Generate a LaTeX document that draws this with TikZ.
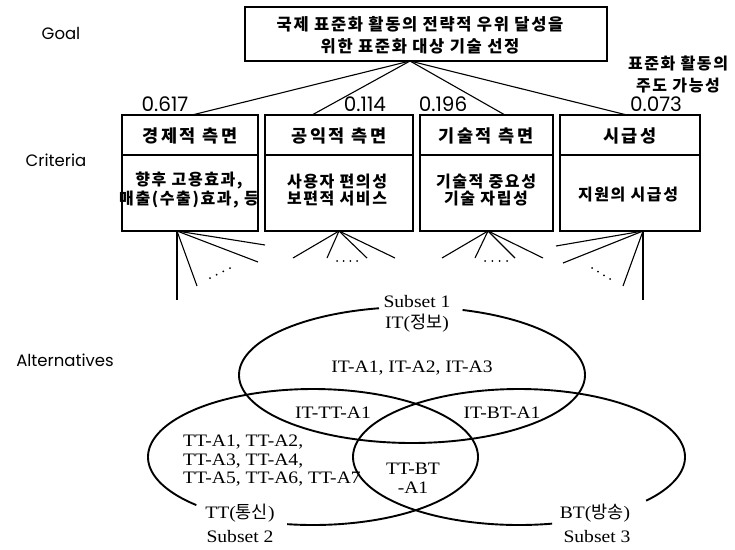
\documentclass[tikz,border=0pt]{standalone}
\usepackage{fontspec}
\setmainfont{Liberation Serif}
\newfontfamily\krb[LetterSpace=10]{Noto Sans CJK KR}
\newfontfamily\krh[LetterSpace=16]{Noto Sans CJK KR}
\newfontfamily\krv{Noto Sans CJK KR}
\newfontfamily\vennf[FakeStretch=1.12]{Liberation Serif}
\newfontfamily\labf{Poppins}
\begin{document}
\begin{tikzpicture}[x=1pt,y=-1pt,
  box/.style={draw,line width=1.4pt,outer sep=0pt,inner sep=0pt,anchor=north west},
  conn/.style={line width=1.1pt},
  vline/.style={line width=1.9pt},
  goaltext/.style={align=center,font=\krb\bfseries\fontsize{16.5}{22}\selectfont},
  hdr/.style={font=\krh\bfseries\fontsize{17.5}{20}\selectfont},
  bodytext/.style={align=center,font=\krb\bfseries\fontsize{16}{17}\selectfont},
  note/.style={align=center,font=\krb\bfseries\fontsize{16}{22}\selectfont},
  lvl/.style={font=\labf\fontsize{16.5}{20}\selectfont},
  wt/.style={font=\labf\fontsize{20}{22}\selectfont},
  vtext/.style={font=\vennf\fontsize{17.5}{19}\selectfont,align=center},
  vtextl/.style={font=\vennf\fontsize{17.5}{18.5}\selectfont,align=left},
  dotm/.style={fill=black}
]
\useasboundingbox (0,0) rectangle (735,549);

% level labels
\node[lvl] (lgoal) at (61,33) {Goal};
\node[lvl] (lcrit) at (56,160) {Criteria};
\node[lvl] (lalt) at (65,360) {Alternatives};

% goal box
\node[box,minimum width=362pt,minimum height=54pt] (goal) at (245,7) {};
\node[goaltext] (goaltxt) at (420,35) {국제 표준화 활동의 전략적 우위 달성을\\위한 표준화 대상 기술 선정};
\coordinate (hub) at (410,61);

% criteria boxes
\node[box,minimum width=136pt,minimum height=116pt] (c1) at (122,115) {};
\node[box,minimum width=148pt,minimum height=116pt] (c2) at (265,115) {};
\node[box,minimum width=133pt,minimum height=116pt] (c3) at (420,115) {};
\node[box,minimum width=140pt,minimum height=116pt] (c4) at (560,115) {};
\foreach \c in {c1,c2,c3,c4}{
  \draw[line width=1.4pt] (\c.west |- 0,155) -- (\c.east |- 0,155);
}
\node[hdr] (h1) at (190,135.5) {경제적 측면};
\node[hdr] (h2) at (339,135.5) {공익적 측면};
\node[hdr] (h3) at (486,135.5) {기술적 측면};
\node[hdr] (h4) at (630,135.5) {시급성};

\node[bodytext] (b1) at (189,190) {향후 고용효과,\\매출(수출)효과, 등};
\node[bodytext] (b2) at (337,190) {사용자 편의성\\보편적 서비스};
\node[bodytext] (b3) at (486,190) {기술적 중요성\\기술 자립성};
\node[bodytext] (b4) at (628,195) {지원의 시급성};

% weights
\node[wt] (w1) at (165,104) {0.617};
\node[wt] (w2) at (365,104) {0.114};
\node[wt] (w3) at (443,104) {0.196};
\node[wt] (w4) at (656,104) {0.073};
\node[note] (n4) at (678,74) {표준화 활동의\\주도 가능성};

% goal -> criteria
\coordinate (t1) at (192,115);
\coordinate (t2) at (312,115);
\coordinate (t3) at (505,115);
\coordinate (t4) at (627,115);
\foreach \t in {t1,t2,t3,t4}{ \draw[conn] (hub) -- (\t); }

% fans below criteria
\coordinate (a1) at (177,231);
\coordinate (a2) at (339,231);
\coordinate (a3) at (488,231);
\coordinate (a4) at (643,231);
\coordinate (e11) at (265,245); \coordinate (e12) at (258,262);
\coordinate (e13) at (197,286); \coordinate (e14) at (177,300);
\coordinate (e21) at (293,258); \coordinate (e22) at (327,258);
\coordinate (e23) at (367,258); \coordinate (e24) at (395,258);
\coordinate (e31) at (442,258); \coordinate (e32) at (475,258);
\coordinate (e33) at (515,258); \coordinate (e34) at (543,258);
\coordinate (e41) at (556,246); \coordinate (e42) at (563,263);
\coordinate (e43) at (623,286); \coordinate (e44) at (643,300);
\foreach \i in {1,2,3,4}{
  \foreach \j in {1,2,3,4}{ \draw[conn] (a\i) -- (e\i\j); }
}
% dots
\foreach \p in {(210,278),(216.7,274.7),(223.3,271.3),(230,268),
                (337,261),(343.7,261),(350.3,261),(357,261),
                (485,261),(492.3,261),(499.7,261),(507,261),
                (592,268),(598,271.7),(604,275.3),(610,279)}{
  \fill[dotm] \p circle (1pt);
}

% Venn diagram
\draw[vline] plot[domain=287:619,samples=160,smooth] ({412+173*cos(\x)},{375+68*sin(\x)});
\draw[vline] plot[domain=135:459,samples=160,smooth] ({313+165*cos(\x)},{457+68*sin(\x)});
\draw[vline] plot[domain=78.5:400,samples=160,smooth] ({519+166*cos(\x)},{457+68*sin(\x)});

\node[vtext] (s1) at (417,302) {Subset 1};
\node[vtext] (it) at (417,323) {IT({\krv 정보})};
\node[vtext] (ita) at (412,368) {IT-A1, IT-A2, IT-A3};
\node[vtext] (ittt) at (333,413) {IT-TT-A1};
\node[vtext] (itbt) at (502,413) {IT-BT-A1};
\node[vtextl,anchor=west,inner sep=0pt] (tta) at (183,461) {TT-A1, TT-A2,\\TT-A3, TT-A4,\\TT-A5, TT-A6, TT-A7};
\node[vtext] (ttbt) at (413,478) {TT-BT\\-A1};
\node[vtext] (tt) at (240,513) {TT({\krv 통신})};
\node[vtext] (s2) at (240,537) {Subset 2};
\node[vtext] (bt) at (595,513) {BT({\krv 방송})};
\node[vtext] (s3) at (597,537) {Subset 3};
\end{tikzpicture}
\end{document}
